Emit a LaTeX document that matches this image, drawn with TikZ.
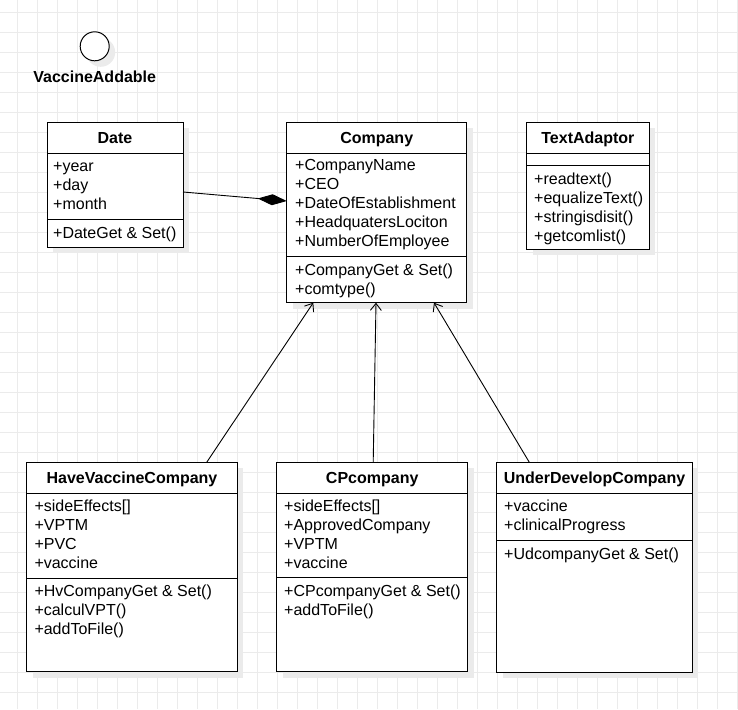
\documentclass[tikz,border=0pt]{standalone}
\usepackage{fontspec}
\setmainfont{Liberation Sans}
\usepackage{tikz}
\usetikzlibrary{arrows.meta,shadows,positioning}
\tikzset{%
  tipV/.tip={Straight Barb[length=7pt,width=11pt]},
  tipD/.tip={Diamond[length=29pt,width=11pt]},
  gridline/.style={color=black!8, line width=0.6pt},
  boxshadow/.style={drop shadow={shadow xshift=6pt, shadow yshift=-6pt, fill=black!8, opacity=1}},
  classbox/.style={draw, line width=1pt, fill=white, anchor=north west, outer sep=0pt, inner sep=0pt, boxshadow},
  sepline/.style={line width=1pt},
  classname/.style={font=\fontsize{16pt}{18.8pt}\selectfont\bfseries, anchor=base, inner sep=0pt},
  members/.style={font=\fontsize{16pt}{18.8pt}\selectfont, align=left, anchor=north west, inner sep=0pt},
  iface/.style={draw, circle, line width=1pt, fill=white, minimum size=29pt, inner sep=0pt, boxshadow},
  link/.style={line width=0.9pt, line join=miter}
}

\begin{document}
\begin{tikzpicture}[x=1pt,y=-1pt]
\useasboundingbox (0,0) rectangle (738,709);
% background grid
\foreach \gx in {-2.3,17.7,...,738} \draw[gridline] (\gx,0) -- (\gx,709);
\foreach \gy in {12.7,32.7,...,709} \draw[gridline] (0,\gy) -- (738,\gy);

% interface
\node[iface] (addable) at (94.7,46.3) {};
\node[classname, anchor=north, below=9pt of addable] (addable-name) {VaccineAddable};

% Date
\node[classbox, minimum width=136, minimum height=125] (date) at (47,122) {};
\draw[sepline] (47,153) -- (183,153);
\draw[sepline] (47,219) -- (183,219);
\node[classname] (date-name) at (115,143.3) {Date};
\node[members] (date-attr) at (53,158.6) {\strut+year\\+day\\+month};
\node[members] (date-meth) at (53,225.6) {\strut+DateGet \& Set()};

% Company
\node[classbox, minimum width=180, minimum height=180.4] (company) at (286.7,122.3) {};
\draw[sepline] (286.7,153.3) -- (466.7,153.3);
\draw[sepline] (286.7,256.7) -- (466.7,256.7);
\node[classname] (company-name) at (376.7,143.3) {Company};
\node[members] (company-attr) at (295,157.6) {\strut+CompanyName\\+CEO\\+DateOfEstablishment\\+HeadquatersLociton\\+NumberOfEmployee};
\node[members] (company-meth) at (295,262.6) {\strut+CompanyGet \& Set()\\+comtype()};

% TextAdaptor
\node[classbox, minimum width=122.3, minimum height=126.7] (adaptor) at (526.7,122.3) {};
\draw[sepline] (526.7,153.3) -- (649,153.3);
\draw[sepline] (526.7,165.7) -- (649,165.7);
\node[classname] (adaptor-name) at (587.9,143.3) {TextAdaptor};
\node[members] (adaptor-meth) at (534,171.6) {\strut+readtext()\\+equalizeText()\\+stringisdisit()\\+getcomlist()};

% HaveVaccineCompany
\node[classbox, minimum width=210.6, minimum height=209.4] (hvc) at (26.7,462.3) {};
\draw[sepline] (26.7,493.3) -- (237.3,493.3);
\draw[sepline] (26.7,578) -- (237.3,578);
\node[classname] (hvc-name) at (132,483.5) {HaveVaccineCompany};
\node[members] (hvc-attr) at (34.3,498.6) {\strut+sideEffects[]\\+VPTM\\+PVC\\+vaccine};
\node[members] (hvc-meth) at (34.3,583.6) {\strut+HvCompanyGet \& Set()\\+calculVPT()\\+addToFile()};

% CPcompany
\node[classbox, minimum width=191, minimum height=209.4] (cp) at (276.7,462.3) {};
\draw[sepline] (276.7,493.3) -- (467.7,493.3);
\draw[sepline] (276.7,577.7) -- (467.7,577.7);
\node[classname] (cp-name) at (372.2,483.5) {CPcompany};
\node[members] (cp-attr) at (284,498.6) {\strut+sideEffects[]\\+ApprovedCompany\\+VPTM\\+vaccine};
\node[members] (cp-meth) at (284,583.6) {\strut+CPcompanyGet \& Set()\\+addToFile()};

% UnderDevelopCompany
\node[classbox, minimum width=195.6, minimum height=209.7] (ud) at (496.7,462.3) {};
\draw[sepline] (496.7,493.3) -- (692.3,493.3);
\draw[sepline] (496.7,540.7) -- (692.3,540.7);
\node[classname] (ud-name) at (594.5,483.5) {UnderDevelopCompany};
\node[members] (ud-attr) at (504,498.6) {\strut+vaccine\\+clinicalProgress};
\node[members] (ud-meth) at (504,546.6) {\strut+UdcompanyGet \& Set()};

% relations
\draw[link, -tipD] ([yshift=-7.5pt]date.east) -- ([yshift=11.5pt]company.west);
\draw[link, -tipV] ([xshift=74.7pt]hvc.north) -- ([xshift=-63.4pt]company.south);
\draw[link, -tipV] ([xshift=1pt]cp.north) -- ([xshift=-0.7pt]company.south);
\draw[link, -tipV] ([xshift=-65.2pt]ud.north) -- ([xshift=57.3pt]company.south);
\end{tikzpicture}
\end{document}
